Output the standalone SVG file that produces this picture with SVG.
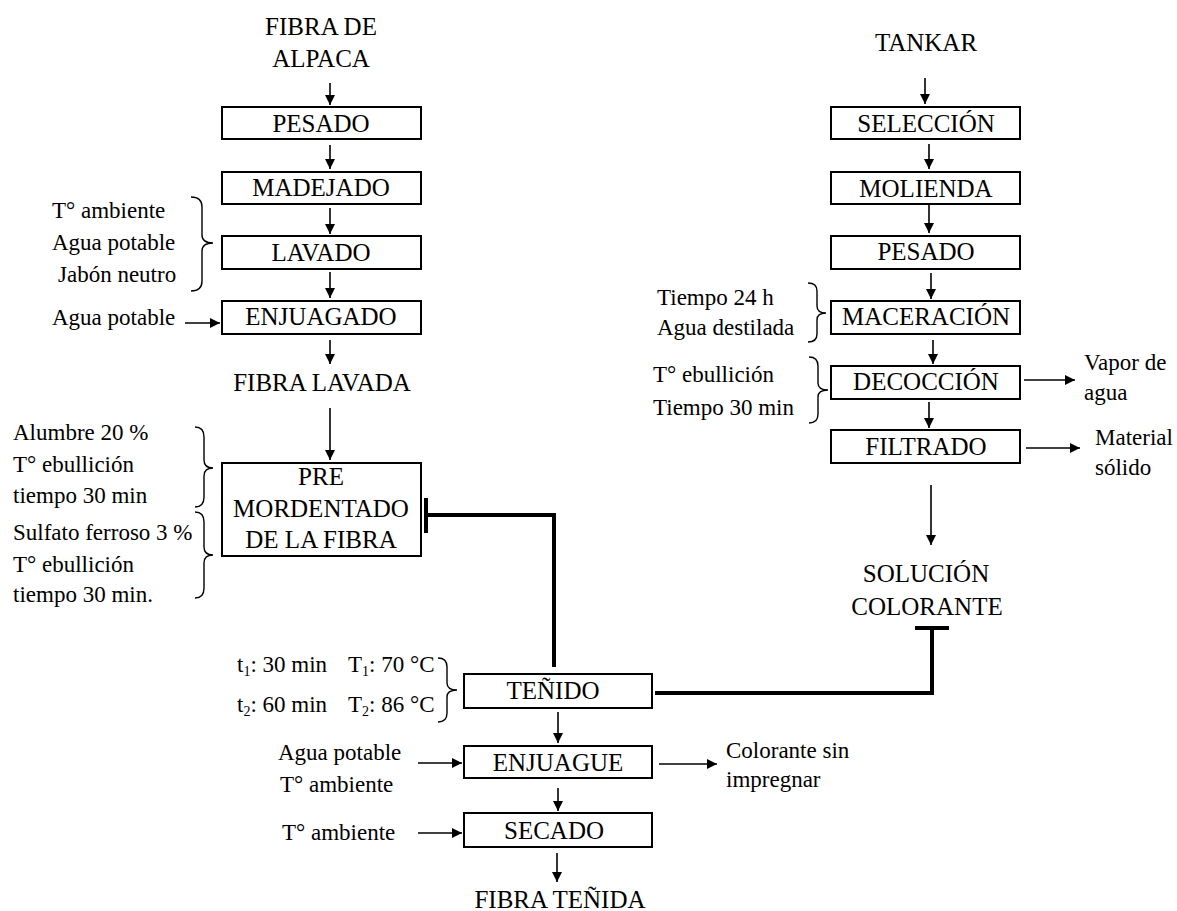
<svg xmlns="http://www.w3.org/2000/svg" width="1177" height="911" viewBox="0 0 1177 911">
<style>
.b{font-family:"Liberation Serif",serif;font-size:25px;text-anchor:middle;fill:#000}
.s{font-family:"Liberation Serif",serif;font-size:23px;fill:#000}
.box{fill:#fff;stroke:#000;stroke-width:2}
.ar{stroke:#000;stroke-width:1.6;fill:none;marker-end:url(#ah)}
.th{stroke:#000;stroke-width:4;fill:none}
.br{stroke:#000;stroke-width:1.4;fill:none}
.sub{font-size:14px}
</style>
<defs>
<marker id="ah" viewBox="0 0 10 10" refX="10" refY="5" markerWidth="10" markerHeight="10" markerUnits="userSpaceOnUse" orient="auto"><path d="M0,0 L10,5 L0,10 z" fill="#000"/></marker>
</defs>
<rect width="1177" height="911" fill="#fff"/>

<g id="fibra-alpaca"><text class="b" x="321" y="35">FIBRA DE</text><text class="b" x="321" y="67">ALPACA</text></g>
<g id="pesado1"><rect class="box" x="222" y="107" width="199" height="32"/><text class="b" x="321" y="132">PESADO</text></g>
<g id="madejado"><rect class="box" x="222" y="172" width="199" height="32"/><text class="b" x="321" y="196">MADEJADO</text></g>
<g id="lavado"><rect class="box" x="222" y="236" width="199" height="33"/><text class="b" x="321" y="261">LAVADO</text>
<text class="s" x="52" y="218">T° ambiente</text><text class="s" x="52" y="250">Agua potable</text><text class="s" x="58" y="282">Jabón neutro</text>
<path class="br" d="M191,197 Q202,197 202,207 L202,235 Q202,243 213,243 Q202,243 202,251 L202,281 Q202,291 191,291"/></g>
<g id="enjuagado"><rect class="box" x="222" y="301" width="199" height="33"/><text class="b" x="321" y="325">ENJUAGADO</text>
<text class="s" x="52" y="325">Agua potable</text></g>
<g id="fibra-lavada"><text class="b" x="322" y="391">FIBRA LAVADA</text></g>
<g id="premordentado"><rect class="box" x="222" y="463" width="199" height="93"/>
<text class="b" x="321" y="485">PRE</text><text class="b" x="321" y="517">MORDENTADO</text><text class="b" x="321" y="548">DE LA FIBRA</text>
<text class="s" x="13" y="440">Alumbre 20 %</text><text class="s" x="13" y="472">T° ebullición</text><text class="s" x="13" y="503">tiempo 30 min</text>
<text class="s" x="13" y="540">Sulfato ferroso 3 %</text><text class="s" x="13" y="572">T° ebullición</text><text class="s" x="13" y="602">tiempo 30 min.</text>
<path class="br" d="M195,427 Q204,427 204,437 L204,460 Q204,468 213,468 Q204,468 204,476 L204,497 Q204,507 195,507"/>
<path class="br" d="M195,512 Q204,512 204,522 L204,547 Q204,555 213,555 Q204,555 204,563 L204,588 Q204,598 195,598"/></g>

<g id="tankar"><text class="b" x="926" y="51">TANKAR</text></g>
<g id="seleccion"><rect class="box" x="831" y="107" width="189" height="32"/><text class="b" x="926" y="132">SELECCIÓN</text></g>
<g id="molienda"><rect class="box" x="831" y="172" width="189" height="32"/><text class="b" x="926" y="197">MOLIENDA</text></g>
<g id="pesado2"><rect class="box" x="831" y="236" width="189" height="33"/><text class="b" x="926" y="260">PESADO</text></g>
<g id="maceracion"><rect class="box" x="831" y="301" width="189" height="33"/><text class="b" x="926" y="325">MACERACIÓN</text>
<text class="s" x="657" y="305">Tiempo 24 h</text><text class="s" x="657" y="335">Agua destilada</text>
<path class="br" d="M808,283 Q817,283 817,291 L817,306 Q817,313 826,313 Q817,313 817,320 L817,334 Q817,342 808,342"/></g>
<g id="decoccion"><rect class="box" x="831" y="366" width="189" height="33"/><text class="b" x="926" y="390">DECOCCIÓN</text>
<text class="s" x="653" y="382">T° ebullición</text><text class="s" x="653" y="415">Tiempo 30 min</text>
<path class="br" d="M809,357 Q818,357 818,366 L818,383 Q818,390 828,390 Q818,390 818,397 L818,414 Q818,423 809,423"/>
<text class="s" x="1084" y="370">Vapor de</text><text class="s" x="1084" y="400">agua</text></g>
<g id="filtrado"><rect class="box" x="831" y="430" width="189" height="33"/><text class="b" x="926" y="455">FILTRADO</text>
<text class="s" x="1095" y="445">Material</text><text class="s" x="1095" y="475">sólido</text></g>
<g id="solucion"><text class="b" x="926" y="582">SOLUCIÓN</text><text class="b" x="927" y="615">COLORANTE</text></g>

<g id="tenido"><rect class="box" x="464" y="674" width="188" height="34"/><text class="b" x="553" y="699">TEÑIDO</text>
<text class="s" x="237" y="672">t<tspan class="sub" dy="4">1</tspan><tspan dy="-4">: 30 min</tspan><tspan x="348">T</tspan><tspan class="sub" dy="4">1</tspan><tspan dy="-4">: 70 °C</tspan></text>
<text class="s" x="237" y="712">t<tspan class="sub" dy="4">2</tspan><tspan dy="-4">: 60 min</tspan><tspan x="348">T</tspan><tspan class="sub" dy="4">2</tspan><tspan dy="-4">: 86 °C</tspan></text>
<path class="br" d="M438,658 Q447,658 447,667 L447,683 Q447,690 457,690 Q447,690 447,697 L447,713 Q447,722 438,722"/></g>
<g id="enjuague"><rect class="box" x="464" y="746" width="188" height="32"/><text class="b" x="558" y="771">ENJUAGUE</text>
<text class="s" x="278" y="760">Agua potable</text><text class="s" x="280" y="792">T° ambiente</text>
<text class="s" x="726" y="758">Colorante sin</text><text class="s" x="726" y="787">impregnar</text></g>
<g id="secado"><rect class="box" x="464" y="813" width="188" height="34"/><text class="b" x="554" y="839">SECADO</text>
<text class="s" x="282" y="840">T° ambiente</text></g>
<g id="fibra-tenida"><text class="b" x="560" y="908">FIBRA TEÑIDA</text></g>

<g id="connectors">
<line class="ar" x1="330" y1="83" x2="330" y2="105"/>
<line class="ar" x1="330" y1="145" x2="330" y2="169"/>
<line class="ar" x1="330" y1="208" x2="330" y2="234"/>
<line class="ar" x1="330" y1="272" x2="330" y2="298"/>
<line class="ar" x1="330" y1="340" x2="330" y2="364"/>
<line class="ar" x1="330" y1="408" x2="330" y2="460"/>
<line class="ar" x1="185" y1="323" x2="220" y2="323"/>
<line class="ar" x1="925" y1="78" x2="925" y2="104"/>
<line class="ar" x1="929" y1="144" x2="929" y2="169"/>
<line class="ar" x1="929" y1="205" x2="929" y2="233"/>
<line class="ar" x1="931" y1="273" x2="931" y2="299"/>
<line class="ar" x1="933" y1="340" x2="933" y2="364"/>
<line class="ar" x1="929" y1="402" x2="929" y2="428"/>
<line class="ar" x1="931" y1="485" x2="931" y2="545"/>
<line class="ar" x1="1024" y1="380" x2="1075" y2="380"/>
<line class="ar" x1="1026" y1="448" x2="1080" y2="448"/>
<line class="ar" x1="558" y1="712" x2="558" y2="743"/>
<line class="ar" x1="558" y1="788" x2="558" y2="811"/>
<line class="ar" x1="557" y1="853" x2="557" y2="882"/>
<line class="ar" x1="418" y1="763" x2="462" y2="763"/>
<line class="ar" x1="418" y1="833" x2="462" y2="833"/>
<line class="ar" x1="659" y1="764" x2="717" y2="764"/>
<path class="th" d="M554,667 L554,515 L426,515"/>
<line class="th" x1="426" y1="498" x2="426" y2="533"/>
<path class="th" d="M655,693 L932,693 L932,628"/>
<line class="th" x1="915" y1="628" x2="949" y2="628"/>
</g>
</svg>
